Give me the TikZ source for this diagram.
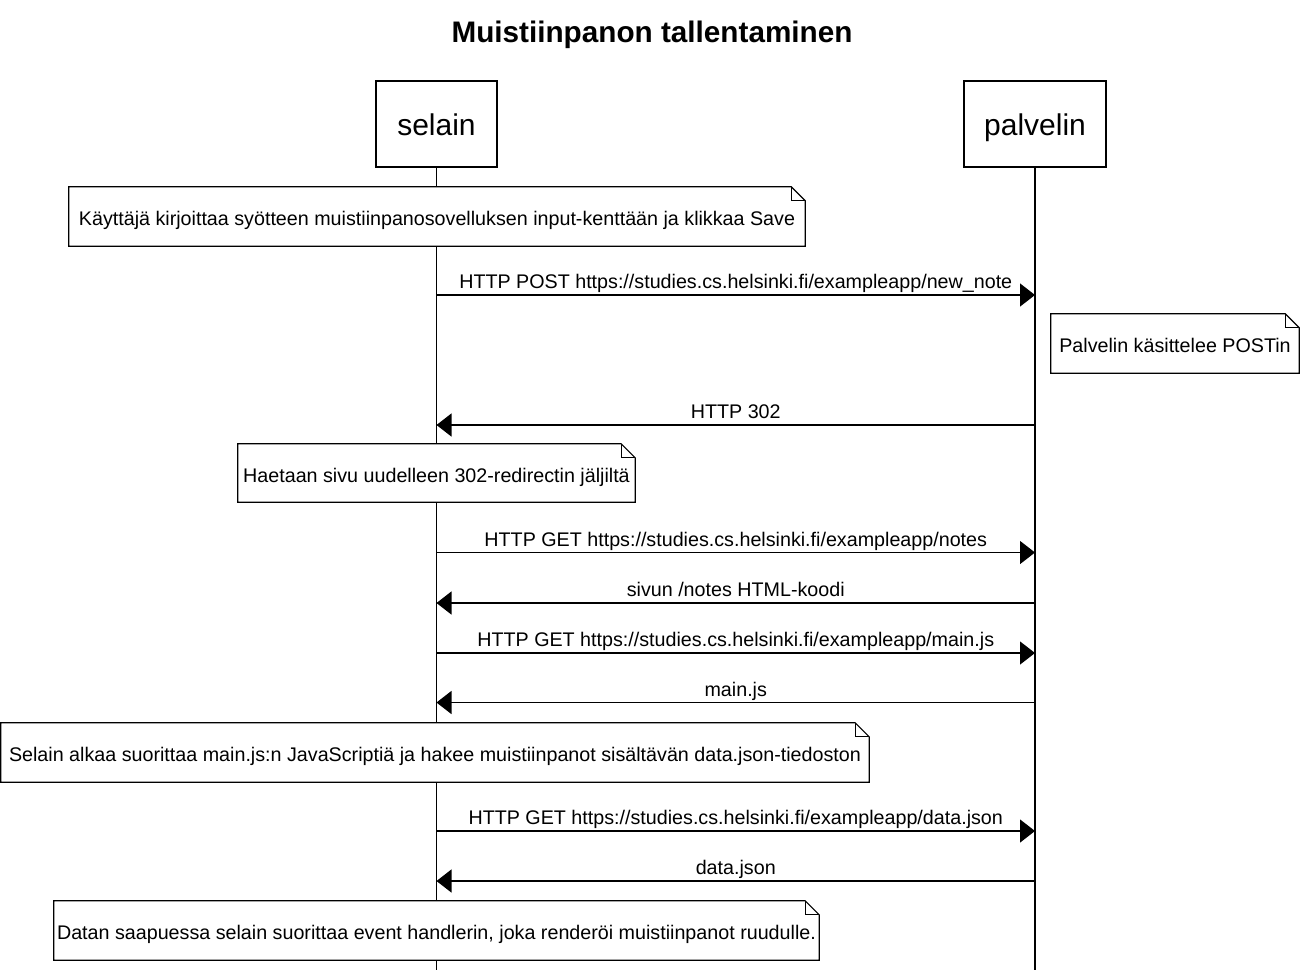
\documentclass[tikz,border=0pt]{standalone}
\usepackage{fontspec}
\setmainfont{Liberation Sans}
\usetikzlibrary{arrows.meta}
\newcommand\drawnote[1]{%
  \draw[noteline] (#1.north west) -- ([xshift=-14pt]#1.north east) -- ([yshift=-14pt]#1.north east) -- (#1.south east) -- (#1.south west) -- cycle;
  \draw[noteline, line width=1pt] ([xshift=-14pt]#1.north east) -- ([xshift=-14pt,yshift=-14pt]#1.north east) -- ([yshift=-14pt]#1.north east);}
\begin{document}
\begin{tikzpicture}[x=1pt,y=-1pt,
  lbl/.style={font=\fontsize{19.7}{24}\selectfont, anchor=base, inner sep=0},
  actor/.style={draw, line width=1.2pt, fill=white, font=\fontsize{30}{36}\selectfont, inner sep=0, text height=22pt, text depth=0pt},
  life/.style={line width=1.2pt},
  msg/.style={line width=1.2pt, -{Triangle[length=15pt,width=23pt]}},
  notebox/.style={fill=white, inner sep=0, font=\fontsize{19.7}{24}\selectfont, text height=18pt, text depth=0pt},
  noteline/.style={line width=1.2pt, line join=miter}
]
\useasboundingbox (0,0) rectangle (1305,970);

\node[font=\fontsize{29.7}{36}\selectfont\bfseries, anchor=base, inner sep=0] (title) at (652,42) {Muistiinpanon tallentaminen};

\node[actor, minimum width=121, minimum height=86] (selain) at (436.5,124) {selain};
\node[actor, minimum width=142, minimum height=86] (palvelin) at (1035,124) {palvelin};

\coordinate (selainEnd) at (436.5,970);
\coordinate (palvelinEnd) at (1035,970);
\draw[life] (selain.south) -- (selainEnd);
\draw[life] (palvelin.south) -- (palvelinEnd);

% notes
\node[notebox, minimum width=736, minimum height=59] (n1) at (437,216.5) {Käyttäjä kirjoittaa syötteen muistiinpanosovelluksen input-kenttään ja klikkaa Save};
\drawnote{n1}
\node[notebox, minimum width=248, minimum height=59] (n2) at (1175,343.5) {Palvelin käsittelee POSTin};
\drawnote{n2}
\node[notebox, minimum width=397, minimum height=58] (n3) at (436.5,473) {Haetaan sivu uudelleen 302-redirectin jäljiltä};
\drawnote{n3}
\node[notebox, minimum width=868, minimum height=59] (n4) at (435,752.5) {Selain alkaa suorittaa main.js:n JavaScriptiä ja hakee muistiinpanot sisältävän data.json-tiedoston};
\drawnote{n4}
\node[notebox, minimum width=765, minimum height=59] (n5) at (436.5,930.5) {Datan saapuessa selain suorittaa event handlerin, joka renderöi muistiinpanot ruudulle.};
\drawnote{n5}

% message end points
\coordinate (s1) at (436.5,295);   \coordinate (p1) at (1035,295);
\coordinate (s2) at (436.5,425);   \coordinate (p2) at (1035,425);
\coordinate (s3) at (436.5,552.5); \coordinate (p3) at (1035,552.5);
\coordinate (s4) at (436.5,603);   \coordinate (p4) at (1035,603);
\coordinate (s5) at (436.5,653);   \coordinate (p5) at (1035,653);
\coordinate (s6) at (436.5,702.5); \coordinate (p6) at (1035,702.5);
\coordinate (s7) at (436.5,831);   \coordinate (p7) at (1035,831);
\coordinate (s8) at (436.5,881);   \coordinate (p8) at (1035,881);

\draw[msg] (s1) -- (p1) node[lbl, midway, yshift=6.5pt] {HTTP POST https://studies.cs.helsinki.fi/exampleapp/new\_note};
\draw[msg] (p2) -- (s2) node[lbl, midway, yshift=6.5pt] {HTTP 302};
\draw[msg] (s3) -- (p3) node[lbl, midway, yshift=6.5pt] {HTTP GET https://studies.cs.helsinki.fi/exampleapp/notes};
\draw[msg] (p4) -- (s4) node[lbl, midway, yshift=6.5pt] {sivun /notes HTML-koodi};
\draw[msg] (s5) -- (p5) node[lbl, midway, yshift=6.5pt] {HTTP GET https://studies.cs.helsinki.fi/exampleapp/main.js};
\draw[msg] (p6) -- (s6) node[lbl, midway, yshift=6.5pt] {main.js};
\draw[msg] (s7) -- (p7) node[lbl, midway, yshift=6.5pt] {HTTP GET https://studies.cs.helsinki.fi/exampleapp/data.json};
\draw[msg] (p8) -- (s8) node[lbl, midway, yshift=6.5pt] {data.json};
\end{tikzpicture}
\end{document}
